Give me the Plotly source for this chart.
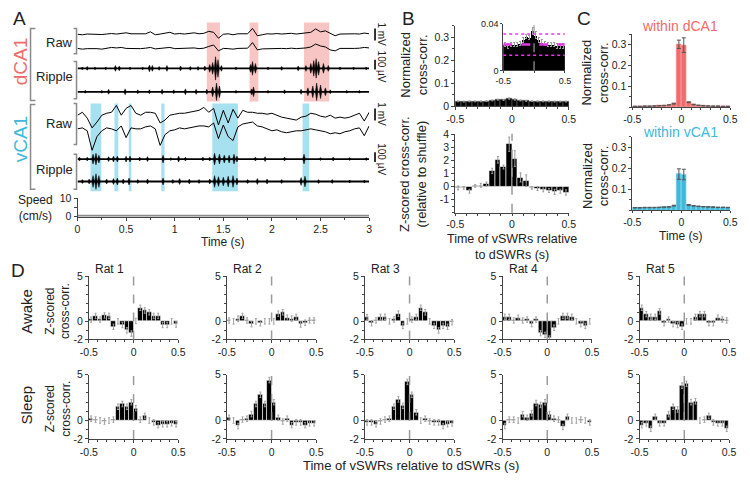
import plotly.graph_objects as go

W, H = 750, 481
def px(x): return x / W
def py(y): return 1 - y / H

FONT = "Liberation Sans, Arial, sans-serif"
INK = "#222222"
AXC = "#444444"
RED = "#F06B6B"
CYAN = "#3DB9DA"
SHADE_RED = "rgba(242,150,150,0.55)"
SHADE_BLUE = "rgba(95,200,228,0.55)"
MAGENTA = "#E03CE0"

# ---------------- DATA ----------------
TRACE_DT = 0.05

# panel A raw LFP (mV), dCA1 two channels
DCA1_RAW1 = [0, -0.04, 0.02, 0, 0.04, -0.02, 0.02, 0.06, 0.02, 0.05, 0.12, 0.04, 0.02, 0.06, 0.04, 0.2,
             -0.04, 0.02, 0.12, 0.16, 0.02, 0.06, 0.02, 0.06, 0.12, 0.04, 0.08, 0.24, 0.16, -0.32, 0, 0.04,
             -0.04, 0.04, 0.02, 0.04, 0.48, -0.12, -0.04, 0.04, 0.02, 0.06, 0.02, 0.04, 0.08, 0.02, 0.06,
             0.08, 0.16, 0.44, 0.2, 0.28, 0.08, -0.12, 0.02, 0.04, 0, 0.04, 0.02, 0.1, 0.04]
DCA1_RAW2 = [0.04, -0.02, 0.02, 0.04, 0.02, -0.02, 0.06, 0.12, 0.08, 0.12, 0.04, 0.02, 0.04, 0.02, 0.06,
             0.12, 0, 0.02, 0.08, 0.12, 0.02, 0.04, 0, 0.04, 0.08, 0.02, 0.06, 0.2, 0.32, -0.16, 0.04, 0.02,
             -0.02, 0.04, 0.02, 0.06, 0.52, -0.08, 0, 0.02, 0.04, 0.02, 0.04, 0.02, 0.06, 0.02, 0.04, 0.08,
             0.16, 0.4, 0.24, 0.16, -0.08, -0.16, 0.04, 0.02, 0, 0.04, 0.06, 0.12, 0.08]
# vCA1 two channels (mV)
VCA1_RAW1 = [0, 0.24, -0.24, -1.04, -0.56, 0, 0.16, 0.24, 0.8, 0, 0.56, 0.8, 0.16, 0, 0.24, 0.24, 0.16,
             -0.64, -0.4, 0, 0.08, 0.16, 0.16, 0.24, 0.32, 0.4, 0.64, 0.24, 0.56, -0.8, 0.4, -0.64, 0.48,
             -0.24, 0.4, 0.24, 0.24, 0.16, 0.16, 0.08, 0.16, 0, -0.16, -0.24, -0.32, -0.4, -0.16, -0.08,
             0.16, 0.08, -0.08, -0.16, 0, -0.24, -0.16, -0.24, -0.16, 0, 0.16, -0.48, 0.24]
VCA1_RAW2 = [0.16, 0.24, 0, -1.6, -0.48, 0, 0.24, 0.16, 0, 0.4, -0.56, 0.24, 0.16, 0.16, 0.32, 0.4, 0.16,
             -1.2, -0.32, 0, 0.08, 0.24, 0.16, 0.24, 0.32, 0.4, 0.4, 0.32, 0.64, -0.64, 0.48, -0.48, -0.8,
             0.32, 0.56, 0.64, 0.72, 0.4, 0.32, 0.16, 0, 0.08, -0.08, -0.16, -0.08, 0, 0, 0.08, 0.16, 0.08,
             0, -0.08, -0.24, -0.16, -0.24, -0.08, 0, 0.16, 0.24, -0.4, 0.4]
# ripple-band bursts: time (s) and half amplitude (uV)
DCA1_RIP1_T = [0.05, 0.10, 0.18, 0.29, 0.39, 0.43, 0.54, 0.67, 0.74, 0.77, 0.84, 0.92, 1.06, 1.16, 1.24,
               1.31, 1.36, 1.39, 1.42, 1.445, 1.48, 1.63, 1.78, 1.80, 1.83, 1.96, 2.10, 2.27, 2.35, 2.40,
               2.43, 2.455, 2.48, 2.53, 2.58, 2.70, 2.84, 2.97]
DCA1_RIP1_A = [15, 20, 15, 15, 30, 25, 15, 15, 35, 30, 20, 30, 25, 20, 20, 25, 40, 60, 120, 90, 30, 15, 40,
               70, 50, 15, 20, 25, 30, 50, 80, 100, 70, 50, 30, 15, 15, 15]
DCA1_RIP2_T = [0.08, 0.25, 0.32, 0.49, 0.62, 0.74, 0.87, 0.99, 1.11, 1.22, 1.33, 1.39, 1.43, 1.46, 1.63,
               1.79, 1.81, 1.96, 2.13, 2.30, 2.37, 2.42, 2.46, 2.50, 2.55, 2.60, 2.77, 2.90]
DCA1_RIP2_A = [15, 15, 25, 30, 20, 20, 25, 20, 30, 25, 25, 50, 90, 60, 15, 30, 50, 15, 20, 25, 40, 60, 90,
               70, 40, 20, 15, 15]
VCA1_RIP1_T = [0.02, 0.10, 0.16, 0.19, 0.22, 0.32, 0.37, 0.41, 0.50, 0.54, 0.64, 0.72, 0.88, 0.96, 1.04,
               1.11, 1.29, 1.36, 1.41, 1.46, 1.51, 1.56, 1.61, 1.64, 1.83, 1.93, 2.13, 2.33, 2.50, 2.63,
               2.80, 2.97]
VCA1_RIP1_A = [20, 20, 50, 60, 40, 25, 30, 30, 30, 30, 20, 25, 40, 15, 30, 20, 20, 20, 60, 50, 40, 40, 50,
               30, 20, 25, 20, 50, 15, 20, 15, 15]
VCA1_RIP2_T = [0.05, 0.12, 0.16, 0.19, 0.22, 0.30, 0.37, 0.41, 0.47, 0.53, 0.62, 0.72, 0.88, 0.98, 1.05,
               1.15, 1.25, 1.36, 1.41, 1.45, 1.50, 1.55, 1.60, 1.64, 1.75, 1.85, 1.95, 2.10, 2.30, 2.34,
               2.48, 2.62, 2.80, 2.95]
VCA1_RIP2_A = [20, 25, 60, 80, 60, 25, 30, 35, 25, 35, 20, 25, 35, 20, 30, 25, 20, 25, 60, 50, 45, 55, 60,
               35, 20, 30, 25, 20, 40, 55, 20, 20, 15, 15]
SPEED_T = [0, 0.5, 1.0, 1.5, 2.0, 2.5, 3.0]
SPEED = [0, 0, 0, 0, 0, 0, 0]
DCA1_EVENTS = [(1.33, 1.465), (1.77, 1.86), (2.33, 2.59)]
VCA1_EVENTS = [(0.134, 0.245), (0.38, 0.42), (0.527, 0.554), (0.862, 0.895), (1.386, 1.65), (2.315, 2.383)]
TIME_TICKS = [0, 0.5, 1, 1.5, 2, 2.5, 3]
TIME_LABELS = ["0", "0.5", "1", "1.5", "2", "2.5", "3"]

# cross-correlogram bins (s)
BINS = [-0.475, -0.425, -0.375, -0.325, -0.275, -0.225, -0.175, -0.125, -0.075, -0.025,
        0.025, 0.075, 0.125, 0.175, 0.225, 0.275, 0.325, 0.375, 0.425, 0.475]
# panel B
B_NORM = [0.022, 0.021, 0.022, 0.022, 0.022, 0.023, 0.026, 0.029, 0.028, 0.034,
          0.030, 0.026, 0.024, 0.023, 0.022, 0.022, 0.022, 0.021, 0.021, 0.021]
B_NORM_ERR = [0.002, 0.002, 0.002, 0.002, 0.002, 0.002, 0.002, 0.002, 0.002, 0.003,
              0.003, 0.002, 0.002, 0.002, 0.002, 0.002, 0.002, 0.002, 0.002, 0.002]
SHUFFLE_MEAN = 0.022
SHUFFLE_CI = [0.013, 0.031]
B_Z = [-0.1, -0.1, -0.35, 0.05, 0.1, 0.2, 1.2, 2.05, 1.5, 3.25,
       2.15, 0.7, 0.45, -0.1, -0.15, -0.25, -0.3, -0.4, -0.35, -0.45]
B_Z_ERR = [0.15, 0.1, 0.15, 0.1, 0.15, 0.15, 0.2, 0.25, 0.15, 0.55,
           0.6, 0.35, 0.45, 0.1, 0.15, 0.15, 0.15, 0.2, 0.15, 0.2]
# panel C
C_DCA1 = [0.005, 0.005, 0.006, 0.006, 0.007, 0.008, 0.009, 0.012, 0.018, 0.302,
          0.298, 0.025, 0.014, 0.010, 0.008, 0.007, 0.006, 0.006, 0.005, 0.005]
C_DCA1_ERR = [0.001, 0.001, 0.001, 0.001, 0.001, 0.001, 0.001, 0.001, 0.002, 0.02,
              0.035, 0.002, 0.001, 0.001, 0.001, 0.001, 0.001, 0.001, 0.001, 0.001]
C_VCA1 = [0.012, 0.012, 0.013, 0.013, 0.013, 0.014, 0.015, 0.016, 0.022, 0.172,
          0.170, 0.025, 0.021, 0.019, 0.017, 0.016, 0.015, 0.014, 0.014, 0.013]
C_VCA1_ERR = [0.001, 0.001, 0.001, 0.001, 0.001, 0.001, 0.001, 0.001, 0.002, 0.025,
              0.025, 0.002, 0.001, 0.001, 0.001, 0.001, 0.001, 0.001, 0.001, 0.001]
# panel D (z-scored cross-corr. per rat)
RATS = ["Rat 1", "Rat 2", "Rat 3", "Rat 4", "Rat 5"]
D_AWAKE_RAT1 = [0.2, 0.6, 0.2, 0.65, 0.6, -0.6, 0.0, -0.4, -1.0, -1.35, 0.05, 1.5, 1.2, 1.0, 0.6, 0.6, -0.4, -0.4, 0.0, -0.35]
D_AWAKE_RAT2 = [0.1, 0.0, 0.3, 0.6, 0.1, -0.3, 0.0, -0.2, 0.0, 0.0, 0.0, 0.85, 1.0, 0.4, 0.3, 0.5, -0.35, -0.15, 0.1, 0.1]
D_AWAKE_RAT3 = [0.45, -0.2, 0.1, 0.5, 0.5, 0.0, 0.2, 0.85, -0.5, 0.0, 0.2, 0.5, 1.5, 1.0, 0.0, -0.5, -1.0, -0.5, -0.6, -0.1]
D_AWAKE_RAT4 = [0.5, 0.5, 0.1, 0.4, 0.1, 0.2, -0.3, 0.2, -1.3, -1.5, -1.9, -0.7, 0.0, 0.6, 0.6, 0.5, 0.0, -0.3, -0.5, 0.0]
D_AWAKE_RAT5 = [1.5, 0.8, 0.5, 0.5, 1.1, -0.2, 0.2, -0.3, -0.4, -0.6, 0.0, 0.0, 0.5, 0.8, 0.8, -0.2, -0.2, 0.4, 0.2, 0.1]
D_SLEEP_RAT1 = [0.2, 0.1, 0.0, -0.1, 0.0, 0.1, 1.5, 1.8, 1.5, 2.0, 1.35, 0.1, 0.5, 0.0, -0.2, -0.5, -0.4, -0.4, -0.3, -0.4]
D_SLEEP_RAT2 = [0.3, 0.0, -0.6, 0.1, 0.2, 0.7, 1.8, 2.8, 1.8, 4.4, 2.0, 0.3, -0.1, 0.2, -0.5, -0.2, -0.2, -0.5, -0.3, -0.3]
D_SLEEP_RAT3 = [-0.2, -0.2, -0.4, -0.1, 0.1, 0.2, 1.5, 2.3, 1.6, 4.2, 2.8, 0.9, 0.0, 0.2, -0.1, -0.2, -0.2, -0.6, -0.4, -0.3]
D_SLEEP_RAT4 = [-0.6, 0.1, 0.1, 0.0, 0.7, 0.3, 0.8, 1.9, 1.7, 2.0, 0.7, 0.2, 0.1, -0.7, 0.4, 0.0, 0.0, 0.1, 0.0, -0.2]
D_SLEEP_RAT5 = [-0.5, -0.3, -0.9, 0.4, -0.3, -0.3, 0.7, 1.5, 1.2, 3.8, 4.0, 2.0, 2.1, 0.0, 0.1, 0.5, -0.2, -0.3, -0.3, -0.9]
D_SEM = 0.3

# ---------------- FIGURE ----------------
fig = go.Figure()
layout = {}
shapes = []
annots = []

def tf(size=10.5):
    return dict(family=FONT, size=size, color=INK)

def axis(domain, rng, anchor, **kw):
    d = dict(domain=domain, range=rng, anchor=anchor, showline=True, linecolor=AXC, linewidth=1,
             ticks="outside", ticklen=3, tickwidth=1, tickcolor=AXC, showgrid=False, zeroline=False,
             tickfont=tf(), fixedrange=True)
    d.update(kw)
    return d

def text(x, y, s, size=12, color=INK, angle=0, xanchor="center"):
    annots.append(dict(x=px(x), y=py(y), xref="paper", yref="paper", text=s, showarrow=False,
                       font=dict(family=FONT, size=size, color=color), textangle=angle,
                       xanchor=xanchor, yanchor="middle"))

# ----- Panel A -----
S_RAW = 12.5   # px per mV
S_RIP = 0.1    # px per uV
BEAD_HW = 0.013  # half width of a drawn ripple burst (s)
layout["xaxis"] = dict(domain=[px(70), px(368)], range=[0, 3], visible=False, anchor="y", fixedrange=True)
layout["yaxis"] = dict(domain=[py(195), py(15)], range=[-195, -15], visible=False, anchor="x", fixedrange=True)

for (t0, t1) in DCA1_EVENTS:
    shapes.append(dict(type="rect", xref="x", yref="y", x0=t0, x1=t1, y0=-98, y1=-17,
                       fillcolor=SHADE_RED, line=dict(width=0), layer="below"))
for (t0, t1) in VCA1_EVENTS:
    shapes.append(dict(type="rect", xref="x", yref="y", x0=t0, x1=t1, y0=-190, y1=-100,
                       fillcolor=SHADE_BLUE, line=dict(width=0), layer="below"))

def raw_trace(vals, base):
    t = [i * TRACE_DT for i in range(len(vals))]
    fig.add_trace(go.Scatter(x=t, y=[-base + v * S_RAW for v in vals], mode="lines",
                             line=dict(color="black", width=1), xaxis="x", yaxis="y", hoverinfo="skip"))

def rip_trace(times, amps, base):
    fig.add_trace(go.Scatter(x=[0, 3], y=[-base, -base], mode="lines",
                             line=dict(color="black", width=1.8), xaxis="x", yaxis="y", hoverinfo="skip"))
    xs, ys = [], []
    for t, a in zip(times, amps):
        h = a * S_RIP
        xs += [t - BEAD_HW, t, t + BEAD_HW, t, t - BEAD_HW, None]
        ys += [-base, -base + h, -base, -base - h, -base, None]
    fig.add_trace(go.Scatter(x=xs, y=ys, mode="lines", fill="toself", fillcolor="black",
                             line=dict(color="black", width=0.5), xaxis="x", yaxis="y", hoverinfo="skip"))

raw_trace(DCA1_RAW1, 29)
raw_trace(DCA1_RAW2, 44)
rip_trace(DCA1_RIP1_T, DCA1_RIP1_A, 64)
rip_trace(DCA1_RIP2_T, DCA1_RIP2_A, 88)
raw_trace(VCA1_RAW1, 112)
raw_trace(VCA1_RAW2, 128)
rip_trace(VCA1_RIP1_T, VCA1_RIP1_A, 157)
rip_trace(VCA1_RIP2_T, VCA1_RIP2_A, 180)

# speed
layout["xaxis2"] = axis([px(70), px(368)], [0, 3], "y2", tickvals=TIME_TICKS, ticktext=TIME_LABELS,
                        minor=dict(ticks="outside", dtick=0.25, ticklen=2, tickcolor=AXC))
layout["yaxis2"] = axis([py(216), py(197)], [0, 10], "x2", tickvals=[0, 5, 10], ticktext=["0", "", "10"])
fig.add_trace(go.Scatter(x=SPEED_T, y=SPEED, mode="lines", line=dict(color="#8a8a8a", width=3.5),
                         xaxis="x2", yaxis="y2", hoverinfo="skip"))

# brackets
def bracket(x, y0, y1, left_open=True, color="#8a8a8a"):
    d = 5 if left_open else -3
    path = f"M {px(x + d)},{py(y0)} L {px(x)},{py(y0)} L {px(x)},{py(y1)} L {px(x + d)},{py(y1)}"
    shapes.append(dict(type="path", xref="paper", yref="paper", path=path,
                       line=dict(color=color, width=1.5)))
bracket(22, 23, 97)
bracket(22, 101, 188)
bracket(69, 23, 49, left_open=False)
bracket(69, 57, 95, left_open=False)
bracket(69, 100, 142, left_open=False)
bracket(69, 152, 188, left_open=False)

text(12, 57, "dCA1", size=19, color=RED, angle=-90)
text(12, 137, "vCA1", size=19, color=CYAN, angle=-90)
text(52, 37, "Raw", 13)
text(46, 72, "Ripple", 13)
text(52, 120, "Raw", 13)
text(46, 168, "Ripple", 13)
text(27, 207, "Speed<br>(cm/s)", 12)
text(219, 242, "Time (s)", 12)

# scale bars
for (y0, y1, ty, lab) in [(23, 35.5, 29, "1 mV"), (55, 65, 62, "100 µV"),
                          (105, 117.5, 111, "1 mV"), (150, 160, 157, "100 µV")]:
    shapes.append(dict(type="line", xref="paper", yref="paper", x0=px(374), x1=px(374), y0=py(y0), y1=py(y1),
                       line=dict(color="black", width=1.6)))
    text(381, ty, lab, 10, angle=90)

# ----- Panel B -----
BX = [px(456), px(572)]
XT = [-0.5, 0, 0.5]
XL = ["-0.5", "0", "0.5"]
minor_x = dict(ticks="outside", dtick=0.1, tick0=0, ticklen=2, tickcolor=AXC)
layout["xaxis3"] = axis(BX, [-0.5, 0.5], "y3", tickvals=XT, ticktext=XL, minor=minor_x)
layout["yaxis3"] = axis([py(103), py(20)], [0, 0.35], "x3", tickvals=[0, 0.1, 0.2, 0.3],
                        ticktext=["0", "0.1", "0.2", "0.3"],
                        minor=dict(ticks="outside", dtick=0.05, ticklen=2, tickcolor=AXC))
err_style = dict(type="data", color="#9a9a9a", thickness=1, width=1)
fig.add_trace(go.Bar(x=BINS, y=B_NORM, width=0.05, marker=dict(color="black", line=dict(color="#777", width=0.5)),
                     error_y=dict(array=B_NORM_ERR, **err_style), xaxis="x3", yaxis="y3", hoverinfo="skip"))
# inset
layout["xaxis4"] = axis([px(505), px(568)], [-0.5, 0.5], "y4", tickvals=XT, ticktext=["-0.5", "", "0.5"],
                        tickfont=tf(9), ticklen=2)
layout["yaxis4"] = axis([py(66), py(18)], [0, 0.04], "x4", tickvals=[0, 0.04], ticktext=["0", "0.04"],
                        tickfont=tf(9), ticklen=2)
fig.add_trace(go.Bar(x=BINS, y=B_NORM, width=0.05, marker=dict(color="black", line=dict(width=0)),
                     error_y=dict(array=B_NORM_ERR, **err_style), xaxis="x4", yaxis="y4", hoverinfo="skip"))
for yv in SHUFFLE_CI:
    shapes.append(dict(type="line", xref="x4", yref="y4", x0=-0.5, x1=0.5, y0=yv, y1=yv,
                       line=dict(color=MAGENTA, width=1.5, dash="dot")))
shapes.append(dict(type="line", xref="x4", yref="y4", x0=-0.5, x1=0.5, y0=SHUFFLE_MEAN, y1=SHUFFLE_MEAN,
                   line=dict(color=MAGENTA, width=2.5, dash="dash")))
shapes.append(dict(type="line", xref="x4", yref="y4 domain", x0=0, x1=0, y0=0, y1=1,
                   line=dict(color="#9a9a9a", width=1.2, dash="dash")))
# B bottom
layout["xaxis5"] = axis(BX, [-0.5, 0.5], "y5", tickvals=XT, ticktext=XL, minor=minor_x, ticklen=2)
layout["yaxis5"] = axis([py(212), py(131)], [-2, 4.05], "x5", tickvals=[-1, 0, 1, 2, 3, 4],
                        ticktext=["-1", "0", "1", "2", "3", "4"],
                        minor=dict(ticks="outside", dtick=0.5, tick0=0, ticklen=2, tickcolor=AXC))
fig.add_trace(go.Bar(x=BINS, y=B_Z, width=0.05, marker=dict(color="black", line=dict(color="white", width=0.6)),
                     error_y=dict(array=B_Z_ERR, **err_style), xaxis="x5", yaxis="y5", hoverinfo="skip"))
shapes.append(dict(type="line", xref="x5", yref="y5 domain", x0=0, x1=0, y0=0, y1=1,
                   line=dict(color="#9a9a9a", width=1.5, dash="dash")))
text(413, 60, "Normalized<br>cross-corr.", 13, angle=-90)
text(413, 172, "Z-scored cross-corr.<br>(relative to shuffle)", 13, angle=-90)
text(514, 247, "Time of vSWRs relative<br>to dSWRs (s)", 12.5)

# ----- Panel C -----
CX = [px(637), px(737)]
layout["xaxis6"] = axis(CX, [-0.5, 0.5], "y6", tickvals=XT, ticktext=XL, minor=minor_x, ticklen=2)
layout["yaxis6"] = axis([py(104), py(29)], [0, 0.35], "x6", tickvals=[0.1, 0.2, 0.3],
                        ticktext=["0.1", "0.2", "0.3"],
                        minor=dict(ticks="outside", dtick=0.05, ticklen=2, tickcolor=AXC))
fig.add_trace(go.Bar(x=BINS, y=C_DCA1, width=0.05, marker=dict(color=RED, line=dict(color="#f7b0b0", width=0.6)),
                     error_y=dict(array=C_DCA1_ERR, type="data", color="#555", thickness=1, width=2),
                     xaxis="x6", yaxis="y6", hoverinfo="skip"))
layout["xaxis7"] = axis(CX, [-0.5, 0.5], "y7", tickvals=XT, ticktext=XL, minor=minor_x, ticklen=2)
layout["yaxis7"] = axis([py(209.5), py(134)], [0, 0.35], "x7", tickvals=[0.1, 0.2, 0.3],
                        ticktext=["0.1", "0.2", "0.3"],
                        minor=dict(ticks="outside", dtick=0.05, ticklen=2, tickcolor=AXC))
fig.add_trace(go.Bar(x=BINS, y=C_VCA1, width=0.05, marker=dict(color=CYAN, line=dict(color="#a8e0ef", width=0.6)),
                     error_y=dict(array=C_VCA1_ERR, type="data", color="#555", thickness=1, width=2),
                     xaxis="x7", yaxis="y7", hoverinfo="skip"))
text(686, 20, "within dCA1", 14, color=RED)
text(686, 129, "within vCA1", 14, color=CYAN)
text(599, 68, "Normalized<br>cross-corr.", 13, angle=-90)
text(599, 174, "Normalized<br>cross-corr.", 13, angle=-90)
text(687, 236, "Time (s)", 12)

# ----- Panel D -----
D_ROWS = [[D_AWAKE_RAT1, D_AWAKE_RAT2, D_AWAKE_RAT3, D_AWAKE_RAT4, D_AWAKE_RAT5],
          [D_SLEEP_RAT1, D_SLEEP_RAT2, D_SLEEP_RAT3, D_SLEEP_RAT4, D_SLEEP_RAT5]]
COL_ZERO = [127.3, 268.3, 409.3, 550.0, 690.0]
ROW_Y = [(342, 277), (444, 378)]
n = 8
for r, row in enumerate(D_ROWS):
    for c, vals in enumerate(row):
        xa, ya = f"xaxis{n}", f"yaxis{n}"
        xs, ys = f"x{n}", f"y{n}"
        layout[xa] = axis([px(COL_ZERO[c] - 45.7), px(COL_ZERO[c] + 45.7)], [-0.5, 0.5], ys,
                          tickvals=XT, ticktext=XL, minor=minor_x)
        layout[ya] = axis([py(ROW_Y[r][0]), py(ROW_Y[r][1])], [-2, 5], xs, tickvals=[-2, 0, 5],
                          ticktext=["-2", "0", "5"],
                          minor=dict(ticks="outside", dtick=1, tick0=0, ticklen=2, tickcolor=AXC))
        fig.add_trace(go.Bar(x=BINS, y=vals, width=0.05,
                             marker=dict(color="black", line=dict(color="white", width=0.6)),
                             error_y=dict(type="constant", value=D_SEM, color="#a0a0a0", thickness=1, width=1),
                             xaxis=xs, yaxis=ys, hoverinfo="skip"))
        shapes.append(dict(type="line", xref=xs, yref=f"{ys} domain", x0=0, x1=0, y0=0, y1=1,
                           line=dict(color="#9a9a9a", width=1.5, dash="dash")))
        if r == 0:
            text(COL_ZERO[c] - 45.7 + 21, 270, RATS[c], 12)
        n += 1

text(18, 313, "Awake", 15, angle=-90)
text(18, 410, "Sleep", 15, angle=-90)
text(50, 313, "Z-scored<br>cross-corr.", 12, angle=-90)
text(50, 413, "Z-scored<br>cross-corr.", 12, angle=-90)
text(411, 471, "Time of vSWRs relative to dSWRs (s)", 13)

# panel letters
text(11, 13, "A", 19)
text(408, 13, "B", 19)
text(588, 13, "C", 19)
text(9, 271, "D", 19)

fig.update_layout(**layout)
fig.update_layout(width=W, height=H, margin=dict(l=0, r=0, t=0, b=0), showlegend=False,
                  paper_bgcolor="white", plot_bgcolor="white", shapes=shapes, annotations=annots,
                  bargap=0, font=dict(family=FONT, color=INK))
fig.write_html("out.html", config={"displayModeBar": False},
               post_script="document.body.style.margin='0';document.body.style.overflow='hidden';")
